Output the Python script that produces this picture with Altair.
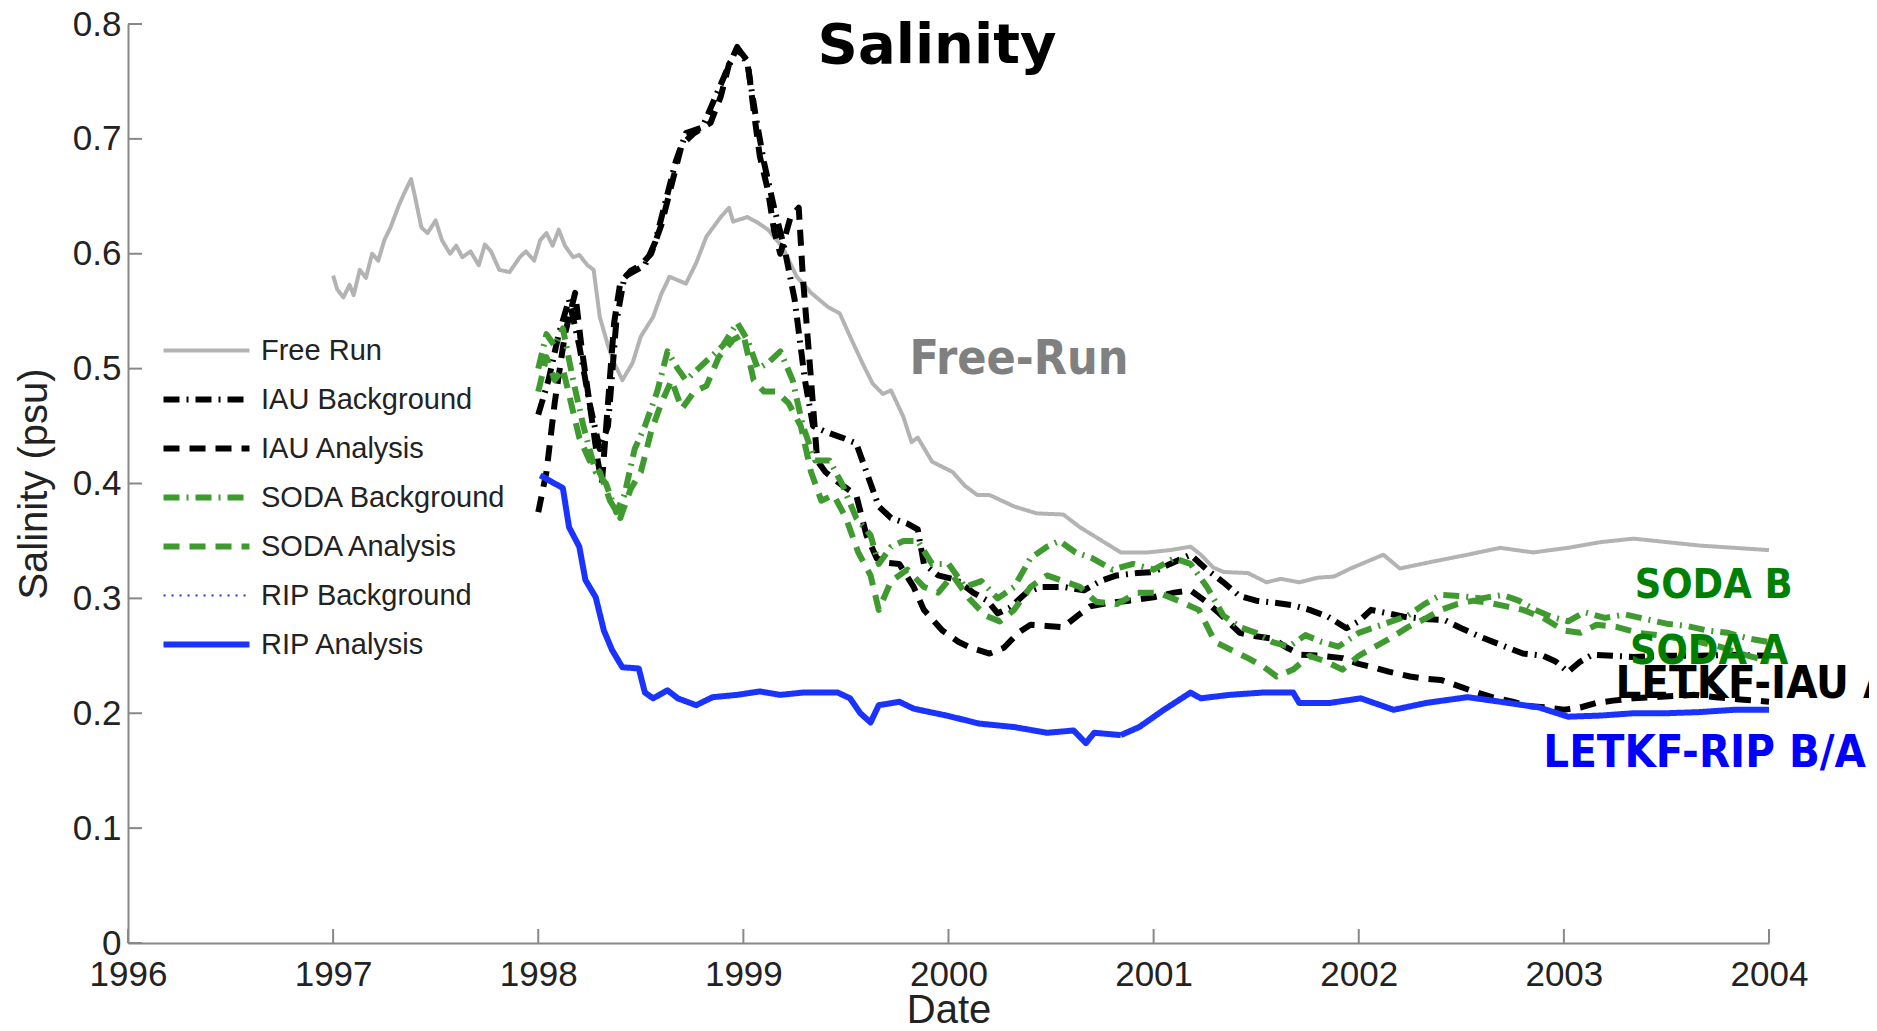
import altair as alt
import pandas as pd

# ---------------- data ----------------
FREE_RUN_YEAR = [1997.00, 1997.02, 1997.05, 1997.08, 1997.10, 1997.13, 1997.16, 1997.19, 1997.22, 1997.25,
                 1997.28, 1997.32, 1997.35, 1997.38, 1997.40, 1997.43, 1997.46, 1997.50, 1997.53, 1997.57,
                 1997.60, 1997.63, 1997.67, 1997.71, 1997.74, 1997.77, 1997.81, 1997.86, 1997.91, 1997.94,
                 1997.98, 1998.01, 1998.04, 1998.07, 1998.10, 1998.13, 1998.17, 1998.20, 1998.24, 1998.27,
                 1998.30, 1998.34, 1998.37, 1998.41, 1998.46, 1998.50, 1998.56, 1998.60, 1998.64, 1998.72,
                 1998.77, 1998.82, 1998.89, 1998.93, 1998.95, 1999.02, 1999.07, 1999.12, 1999.19, 1999.26,
                 1999.33, 1999.41, 1999.47, 1999.52, 1999.58, 1999.63, 1999.68, 1999.72, 1999.78, 1999.82,
                 1999.85, 1999.92, 2000.02, 2000.08, 2000.14, 2000.20, 2000.32, 2000.43, 2000.56, 2000.64,
                 2000.74, 2000.84, 2000.97, 2001.08, 2001.18, 2001.23, 2001.29, 2001.34, 2001.46, 2001.55,
                 2001.62, 2001.71, 2001.80, 2001.88, 2001.96, 2002.04, 2002.12, 2002.20, 2002.36, 2002.53,
                 2002.69, 2002.85, 2003.02, 2003.18, 2003.34, 2003.50, 2003.66, 2003.83, 2004.00]
FREE_RUN_SAL = [0.581, 0.569, 0.562, 0.573, 0.564, 0.586, 0.579, 0.600, 0.594, 0.612,
                0.623, 0.642, 0.654, 0.665, 0.649, 0.623, 0.618, 0.629, 0.612, 0.600,
                0.607, 0.597, 0.602, 0.590, 0.608, 0.602, 0.586, 0.584, 0.597, 0.602,
                0.594, 0.612, 0.618, 0.607, 0.621, 0.607, 0.597, 0.599, 0.590, 0.586,
                0.545, 0.520, 0.505, 0.490, 0.505, 0.528, 0.545, 0.565, 0.580, 0.574,
                0.592, 0.615, 0.632, 0.640, 0.628, 0.632, 0.627, 0.621, 0.606, 0.580,
                0.566, 0.554, 0.548, 0.528, 0.505, 0.487, 0.478, 0.481, 0.458, 0.436,
                0.440, 0.419, 0.410, 0.398, 0.390, 0.390, 0.380, 0.374, 0.373, 0.362,
                0.351, 0.340, 0.340, 0.342, 0.345, 0.338, 0.327, 0.323, 0.322, 0.314,
                0.317, 0.314, 0.318, 0.319, 0.326, 0.332, 0.338, 0.326, 0.332, 0.338,
                0.344, 0.340, 0.344, 0.349, 0.352, 0.349, 0.346, 0.344, 0.342]

IAU_BG_YEAR = [1998.00, 1998.05, 1998.10, 1998.15, 1998.20, 1998.25, 1998.30, 1998.34, 1998.38, 1998.42,
               1998.47, 1998.52, 1998.57, 1998.62, 1998.67, 1998.72, 1998.80, 1998.86, 1998.92, 1998.97,
               1999.02, 1999.06, 1999.10, 1999.15, 1999.20, 1999.25, 1999.30, 1999.34, 1999.40, 1999.48,
               1999.55, 1999.60, 1999.66, 1999.72, 1999.80, 1999.85, 1999.88, 1999.95, 2000.04, 2000.12,
               2000.19, 2000.24, 2000.30, 2000.38, 2000.45, 2000.56, 2000.66, 2000.74, 2000.82, 2000.92,
               2001.00, 2001.08, 2001.18, 2001.26, 2001.34, 2001.42, 2001.50, 2001.60, 2001.68, 2001.76,
               2001.85, 2001.94, 2002.00, 2002.06, 2002.14, 2002.22, 2002.32, 2002.42, 2002.50, 2002.60,
               2002.70, 2002.80, 2002.90, 2002.96, 2003.02, 2003.08, 2003.14, 2003.24, 2003.34, 2003.50,
               2003.66, 2003.82, 2004.00]
IAU_BG_SAL = [0.460, 0.490, 0.530, 0.560, 0.520, 0.470, 0.430, 0.450, 0.540, 0.580,
              0.585, 0.590, 0.610, 0.645, 0.680, 0.705, 0.710, 0.735, 0.760, 0.780,
              0.765, 0.720, 0.680, 0.640, 0.605, 0.560, 0.490, 0.450, 0.445, 0.440,
              0.435, 0.410, 0.380, 0.370, 0.365, 0.360, 0.330, 0.320, 0.316, 0.305,
              0.298, 0.287, 0.292, 0.305, 0.310, 0.310, 0.307, 0.315, 0.320, 0.322,
              0.323, 0.330, 0.338, 0.325, 0.314, 0.302, 0.298, 0.296, 0.294, 0.290,
              0.284, 0.274, 0.280, 0.290, 0.287, 0.284, 0.282, 0.281, 0.274, 0.266,
              0.259, 0.252, 0.250, 0.245, 0.236, 0.245, 0.251, 0.250, 0.249, 0.250,
              0.250, 0.251, 0.250]

IAU_AN_YEAR = [1998.00, 1998.04, 1998.08, 1998.13, 1998.18, 1998.21, 1998.25, 1998.29, 1998.31, 1998.34,
               1998.37, 1998.40, 1998.45, 1998.50, 1998.55, 1998.60, 1998.65, 1998.70, 1998.76, 1998.84,
               1998.89, 1998.93, 1998.98, 1999.02, 1999.05, 1999.08, 1999.12, 1999.15, 1999.18, 1999.23,
               1999.27, 1999.29, 1999.31, 1999.33, 1999.36, 1999.40, 1999.47, 1999.55, 1999.60, 1999.65,
               1999.70, 1999.76, 1999.83, 1999.88, 1999.97, 2000.05, 2000.11, 2000.20, 2000.27, 2000.34,
               2000.40, 2000.48, 2000.56, 2000.63, 2000.69, 2000.78, 2000.88, 2001.00, 2001.10, 2001.18,
               2001.25, 2001.32, 2001.42, 2001.50, 2001.58, 2001.65, 2001.72, 2001.82, 2001.92, 2002.00,
               2002.07, 2002.15, 2002.25, 2002.33, 2002.40, 2002.48, 2002.56, 2002.65, 2002.75, 2002.84,
               2002.92, 2003.00, 2003.08, 2003.16, 2003.24, 2003.34, 2003.44, 2003.54, 2003.64, 2003.74,
               2003.86, 2004.00]
IAU_AN_SAL = [0.375, 0.410, 0.470, 0.530, 0.566, 0.520, 0.470, 0.420, 0.400, 0.470,
              0.540, 0.575, 0.585, 0.590, 0.600, 0.625, 0.660, 0.695, 0.705, 0.714,
              0.737, 0.765, 0.777, 0.768, 0.725, 0.685, 0.655, 0.620, 0.600, 0.632,
              0.640, 0.580, 0.535, 0.490, 0.420, 0.410, 0.400, 0.390, 0.355, 0.335,
              0.331, 0.330, 0.310, 0.290, 0.272, 0.262, 0.257, 0.252, 0.257, 0.270,
              0.277, 0.276, 0.275, 0.285, 0.293, 0.296, 0.298, 0.301, 0.305, 0.307,
              0.298, 0.287, 0.270, 0.267, 0.265, 0.257, 0.251, 0.250, 0.248, 0.243,
              0.240, 0.236, 0.232, 0.230, 0.229, 0.224, 0.219, 0.214, 0.210, 0.206,
              0.205, 0.203, 0.205, 0.209, 0.211, 0.213, 0.214, 0.215, 0.216, 0.214,
              0.212, 0.210]

SODA_BG_YEAR = [1998.00, 1998.04, 1998.08, 1998.12, 1998.17, 1998.22, 1998.28, 1998.33, 1998.38, 1998.42,
                1998.47, 1998.52, 1998.58, 1998.63, 1998.68, 1998.72, 1998.78, 1998.84, 1998.90, 1998.97,
                1999.02, 1999.07, 1999.12, 1999.18, 1999.24, 1999.29, 1999.35, 1999.42, 1999.48, 1999.55,
                1999.62, 1999.66, 1999.72, 1999.78, 1999.85, 1999.92, 2000.00, 2000.08, 2000.16, 2000.24,
                2000.32, 2000.40, 2000.48, 2000.54, 2000.62, 2000.70, 2000.80, 2000.90, 2001.00, 2001.10,
                2001.18, 2001.26, 2001.34, 2001.42, 2001.50, 2001.58, 2001.66, 2001.74, 2001.82, 2001.90,
                2002.00, 2002.08, 2002.16, 2002.24, 2002.32, 2002.40, 2002.50, 2002.60, 2002.70, 2002.78,
                2002.86, 2002.94, 2003.02, 2003.10, 2003.20, 2003.30, 2003.40, 2003.50, 2003.60, 2003.70,
                2003.80, 2003.90, 2004.00]
SODA_BG_SAL = [0.500, 0.530, 0.520, 0.535, 0.490, 0.450, 0.410, 0.400, 0.375, 0.390,
               0.430, 0.450, 0.480, 0.515, 0.500, 0.490, 0.500, 0.510, 0.520, 0.540,
               0.525, 0.500, 0.505, 0.515, 0.490, 0.450, 0.420, 0.420, 0.400, 0.370,
               0.355, 0.330, 0.345, 0.350, 0.350, 0.330, 0.330, 0.310, 0.315, 0.300,
               0.310, 0.335, 0.345, 0.350, 0.340, 0.335, 0.325, 0.330, 0.325, 0.335,
               0.330, 0.310, 0.285, 0.275, 0.270, 0.262, 0.258, 0.268, 0.262, 0.258,
               0.270, 0.275, 0.280, 0.285, 0.295, 0.303, 0.302, 0.300, 0.303, 0.298,
               0.290, 0.284, 0.280, 0.288, 0.283, 0.286, 0.282, 0.278, 0.276, 0.272,
               0.270, 0.265, 0.262]

SODA_AN_YEAR = [1998.00, 1998.04, 1998.08, 1998.12, 1998.16, 1998.20, 1998.25, 1998.30, 1998.35, 1998.40,
                1998.45, 1998.50, 1998.55, 1998.60, 1998.65, 1998.70, 1998.76, 1998.82, 1998.88, 1998.95,
                1999.00, 1999.05, 1999.10, 1999.16, 1999.22, 1999.28, 1999.33, 1999.38, 1999.44, 1999.50,
                1999.56, 1999.62, 1999.66, 1999.72, 1999.80, 1999.88, 1999.95, 2000.02, 2000.10, 2000.18,
                2000.25, 2000.32, 2000.40, 2000.48, 2000.56, 2000.64, 2000.72, 2000.82, 2000.92, 2001.02,
                2001.12, 2001.22, 2001.30, 2001.38, 2001.46, 2001.54, 2001.60, 2001.68, 2001.76, 2001.84,
                2001.92, 2002.00, 2002.08, 2002.16, 2002.24, 2002.32, 2002.40, 2002.48, 2002.56, 2002.64,
                2002.72, 2002.80, 2002.90, 2003.00, 2003.08, 2003.16, 2003.26, 2003.36, 2003.46, 2003.56,
                2003.66, 2003.76, 2003.86, 2004.00]
SODA_AN_SAL = [0.480, 0.510, 0.490, 0.500, 0.470, 0.440, 0.420, 0.410, 0.385, 0.370,
               0.395, 0.410, 0.445, 0.470, 0.490, 0.465, 0.480, 0.485, 0.510, 0.525,
               0.530, 0.490, 0.480, 0.480, 0.470, 0.450, 0.410, 0.385, 0.390, 0.370,
               0.340, 0.320, 0.290, 0.315, 0.325, 0.310, 0.305, 0.320, 0.300, 0.285,
               0.280, 0.290, 0.310, 0.320, 0.315, 0.310, 0.297, 0.295, 0.305, 0.305,
               0.298, 0.290, 0.262, 0.255, 0.248, 0.240, 0.232, 0.238, 0.250, 0.245,
               0.238, 0.250, 0.258, 0.266, 0.275, 0.282, 0.290, 0.295, 0.298, 0.296,
               0.293, 0.290, 0.283, 0.272, 0.270, 0.277, 0.275, 0.270, 0.268, 0.265,
               0.262, 0.258, 0.252, 0.245]

RIP_YEAR = [1998.01, 1998.07, 1998.12, 1998.15, 1998.20, 1998.23, 1998.28, 1998.32, 1998.36, 1998.41,
            1998.49, 1998.52, 1998.56, 1998.63, 1998.68, 1998.77, 1998.85, 1998.97, 1999.08, 1999.18,
            1999.29, 1999.46, 1999.52, 1999.57, 1999.62, 1999.66, 1999.76, 1999.83, 1999.99, 2000.15,
            2000.32, 2000.48, 2000.61, 2000.67, 2000.71, 2000.84, 2000.93, 2001.05, 2001.18, 2001.23,
            2001.37, 2001.53, 2001.68, 2001.71, 2001.86, 2002.01, 2002.17, 2002.33, 2002.53, 2002.69,
            2002.88, 2003.02, 2003.18, 2003.34, 2003.50, 2003.66, 2003.83, 2004.00]
RIP_AN_SAL = [0.407, 0.401, 0.396, 0.362, 0.345, 0.316, 0.301, 0.272, 0.255, 0.240,
              0.239, 0.218, 0.213, 0.220, 0.213, 0.207, 0.214, 0.216, 0.219, 0.216,
              0.218, 0.218, 0.213, 0.200, 0.192, 0.207, 0.210, 0.204, 0.198, 0.191,
              0.188, 0.183, 0.185, 0.174, 0.183, 0.181, 0.188, 0.203, 0.218, 0.213,
              0.216, 0.218, 0.218, 0.209, 0.209, 0.213, 0.203, 0.209, 0.214, 0.210,
              0.205, 0.197, 0.198, 0.200, 0.200, 0.201, 0.203, 0.203]
RIP_BG_SAL = RIP_AN_SAL  # background and analysis overlap (LETKF-RIP B/A)

SERIES = ["Free Run", "IAU Background", "IAU Analysis", "SODA Background",
          "SODA Analysis", "RIP Background", "RIP Analysis"]

X_TICKS = [1996, 1997, 1998, 1999, 2000, 2001, 2002, 2003, 2004]
Y_TICKS = [0, 0.1, 0.2, 0.3, 0.4, 0.5, 0.6, 0.7, 0.8]

ANNOT_TEXT = ["Free-Run", "SODA B", "SODA A", "LETKF-IAU A", "LETKF-RIP B/A"]
ANNOT_YEAR = [1999.81, 2003.345, 2003.322, 2003.252, 2002.90]
ANNOT_SAL = [0.495, 0.300, 0.243, 0.2135, 0.153]

# ---------------- styles ----------------
COLORS = ["#b3b3b3", "#000000", "#000000", "#3f9a2f", "#3f9a2f", "#1a33ff", "#1a33ff"]
DASHES = [[1, 0], [16, 7, 2, 7], [16, 10], [16, 7, 2, 7], [16, 10], [2, 6], [1, 0]]
WIDTHS = [4, 6, 6, 6, 6, 2, 6]
ANNOT_COLOR = ["#808080", "#008000", "#008000", "#000000", "#0000ff"]
ANNOT_SIZE = [48, 41, 41, 45, 45]

# ---------------- build tables ----------------
pieces = [
    ("Free Run", FREE_RUN_YEAR, FREE_RUN_SAL),
    ("IAU Background", IAU_BG_YEAR, IAU_BG_SAL),
    ("IAU Analysis", IAU_AN_YEAR, IAU_AN_SAL),
    ("SODA Background", SODA_BG_YEAR, SODA_BG_SAL),
    ("SODA Analysis", SODA_AN_YEAR, SODA_AN_SAL),
    ("RIP Background", RIP_YEAR, RIP_BG_SAL),
    ("RIP Analysis", RIP_YEAR, RIP_AN_SAL),
]
rows = []
for name, ys, vs in pieces:
    for i, (yr, v) in enumerate(zip(ys, vs)):
        rows.append({"series": name, "year": yr, "salinity": v, "idx": i})
df = pd.DataFrame(rows)

annot = pd.DataFrame({"label": ANNOT_TEXT, "year": ANNOT_YEAR, "salinity": ANNOT_SAL,
                      "color": ANNOT_COLOR, "size": ANNOT_SIZE})

W, H = 1641, 919
AX = "#888888"
LABEL_FONT = "Liberation Sans"

xscale = alt.Scale(domain=[1996, 2004], nice=False, zero=False)
yscale = alt.Scale(domain=[0, 0.8], nice=False)

X_AXIS = alt.Axis(values=X_TICKS, format="d", title="Date", grid=False, ticks=False, tickSize=0,
                  domainColor=AX, domainWidth=2, labelFont=LABEL_FONT, labelFontSize=35,
                  labelColor="#222222", labelPadding=42, labelBaseline="alphabetic",
                  labelFlush=False, labelOverlap=False,
                  titleFont=LABEL_FONT, titleFontSize=40, titleFontWeight="normal",
                  titleColor="#222222", titleX=W / 2, titleY=79, titleBaseline="alphabetic")
Y_AXIS = alt.Axis(values=Y_TICKS, labelExpr="datum.value == 0 ? '0' : format(datum.value, '.1f')",
                  title="Salinity (psu)", grid=False, ticks=False, tickSize=0,
                  domainColor=AX, domainWidth=2, labelFont=LABEL_FONT, labelFontSize=35,
                  labelColor="#222222", labelPadding=7, labelFlush=False, labelOverlap=False,
                  titleFont=LABEL_FONT, titleFontSize=40, titleFontWeight="normal",
                  titleColor="#222222", titleX=-94, titleY=H / 2, titleAngle=270,
                  titleBaseline="middle")

X_ENC = alt.X("year:Q", scale=xscale, axis=X_AXIS, title="Date")
Y_ENC = alt.Y("salinity:Q", scale=yscale, axis=Y_AXIS, title="Salinity (psu)")

lines = alt.Chart(df).mark_line(strokeCap="butt", strokeJoin="round").encode(
    x=X_ENC,
    y=Y_ENC,
    color=alt.Color("series:N", scale=alt.Scale(domain=SERIES, range=COLORS),
                    legend=alt.Legend(title=None, orient="none", legendX=64, legendY=312,
                                      symbolType="M-4,0H4", symbolSize=462, symbolOffset=0,
                                      symbolStrokeWidth=5,
                                      labelOffset=40, labelFont=LABEL_FONT, labelFontSize=29,
                                      labelColor="#222222", labelLimit=500, rowPadding=19,
                                      padding=0)),
    strokeDash=alt.StrokeDash("series:N", scale=alt.Scale(domain=SERIES, range=DASHES)),
    strokeWidth=alt.StrokeWidth("series:N", scale=alt.Scale(type="ordinal", domain=SERIES, range=WIDTHS)),
    order="idx:Q",
)

xticks = alt.Chart(pd.DataFrame({"year": X_TICKS})).mark_rule(color=AX, strokeWidth=2).encode(
    x=X_ENC, y=alt.value(H), y2=alt.value(H - 14))
yticks = alt.Chart(pd.DataFrame({"salinity": Y_TICKS})).mark_rule(color=AX, strokeWidth=2).encode(
    y=Y_ENC, x=alt.value(0), x2=alt.value(14))

annotations = alt.Chart(annot).mark_text(align="left", baseline="alphabetic",
                                         font="DejaVu Sans Condensed", fontWeight="bold").encode(
    x=X_ENC,
    y=Y_ENC,
    text="label:N",
    fill=alt.Fill("color:N", scale=None, legend=None),
    size=alt.Size("size:Q", scale=None, legend=None),
)

title = alt.Chart(pd.DataFrame({"t": ["Salinity"]})).mark_text(
    align="center", baseline="alphabetic", font="DejaVu Sans", fontWeight="bold", fontSize=56,
    color="#000000").encode(text="t:N", x=alt.value(809), y=alt.value(39))

chart = alt.layer(lines, xticks, yticks, annotations, title).properties(
    width=W, height=H,
    autosize=alt.AutoSizeParams(type="none"),
    padding={"left": 120, "top": 16, "right": 100, "bottom": 80},
    background="white",
).configure_view(stroke=None)

chart.save("out.html", embed_options={"renderer": "svg", "actions": False})
